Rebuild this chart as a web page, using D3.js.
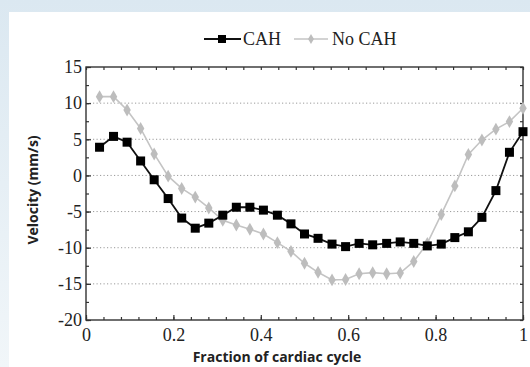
<html lang="en"><head>
<meta http-equiv="Content-Type" content="text/html; charset=UTF-8">
<title>Velocity over cardiac cycle</title>
<script type="text/javascript" src="https://cdn.jsdelivr.net/npm/d3@7"></script>
<style type="text/css">
body { margin: 0; }
</style>
</head>
<body>

<script type="text/javascript">

var width = 530;
var height = 367;

// fraction of cardiac cycle
var fraction = [0.031, 0.063, 0.094, 0.125, 0.156, 0.188, 0.219, 0.25, 0.281, 0.313, 0.344,
                0.375, 0.406, 0.438, 0.469, 0.5, 0.531, 0.563, 0.594, 0.625, 0.656, 0.688,
                0.719, 0.75, 0.781, 0.813, 0.844, 0.875, 0.906, 0.938, 0.969, 1];
// velocity (mm/s)
var cah = [3.9, 5.4, 4.6, 2.0, -0.6, -3.2, -5.9, -7.3, -6.6, -5.5, -4.4, -4.4, -4.8, -5.5,
           -6.7, -8.1, -8.7, -9.5, -9.85, -9.4, -9.6, -9.4, -9.2, -9.4, -9.75, -9.5, -8.6,
           -7.8, -5.8, -2.1, 3.2, 6.05];
var noCah = [10.9, 10.9, 9.05, 6.5, 2.97, -0.1, -1.8, -3.0, -4.5, -6.2, -6.85, -7.45, -8.1,
             -9.3, -10.5, -12.15, -13.4, -14.45, -14.4, -13.6, -13.45, -13.6, -13.5, -11.9,
             -9.4, -5.4, -1.45, 2.9, 4.9, 6.4, 7.45, 9.3];

var seriesNames = ["CAH", "No CAH"];
var xTicks = [0, 0.2, 0.4, 0.6, 0.8, 1];
var yTicks = [-20, -15, -10, -5, 0, 5, 10, 15];
var yGrid = [-15, -10, -5, 0, 5, 10];

var plotLeft = 86, plotRight = 523, plotTop = 67, plotBottom = 320;
var serif = "Liberation Serif, Times New Roman, serif";

var x = d3.scaleLinear().domain([0, 1]).range([plotLeft, plotRight]);
var y = d3.scaleLinear().domain([-20, 15]).range([plotBottom, plotTop]);

var svg = d3.select("body")
            .append("svg")
            .attr("width", width)
            .attr("height", height);

// background
var defs = svg.append("defs");
var grad = defs.append("linearGradient")
  .attr("id", "bg").attr("x1", 0).attr("y1", 0).attr("x2", 0).attr("y2", 1);
grad.append("stop").attr("offset", "0%").attr("stop-color", "#dbe8f1");
grad.append("stop").attr("offset", "100%").attr("stop-color", "#f1f6f9");

svg.append("rect").attr("width", width).attr("height", height).attr("fill", "url(#bg)");
svg.append("rect").attr("x", 9).attr("y", 12).attr("width", width - 9).attr("height", height - 12)
  .attr("fill", "white");

// grid
svg.append("g").selectAll("line")
  .data(yGrid).enter()
  .append("line")
  .attr("x1", plotLeft).attr("x2", plotRight)
  .attr("y1", function(d){ return y(d); })
  .attr("y2", function(d){ return y(d); })
  .attr("stroke", "#9a9a9a")
  .attr("stroke-width", 1)
  .attr("stroke-dasharray", "1.2,2.3");

// minor ticks
var xMinor = d3.range(0, 1.0001, 0.04);
var yMinor = d3.range(-20, 15.0001, 2.5);

function styleAxis(g){
  g.select(".domain").remove();
  g.attr("font-family", serif).attr("font-size", 18);
  g.selectAll(".tick line").attr("stroke", "#333").attr("stroke-width", 1.2);
  g.selectAll(".tick text")
   .style("font-family", serif)
   .style("font-size", "18px")
   .style("fill", "#222");
}

function plain(d){ return String(d); }

svg.append("g").attr("transform", "translate(0," + plotBottom + ")")
  .call(d3.axisBottom(x).tickValues(xMinor).tickSize(-3).tickFormat(""))
  .call(styleAxis);
svg.append("g").attr("transform", "translate(0," + plotTop + ")")
  .call(d3.axisTop(x).tickValues(xMinor).tickSize(-3).tickFormat(""))
  .call(styleAxis);
svg.append("g").attr("transform", "translate(" + plotLeft + ",0)")
  .call(d3.axisLeft(y).tickValues(yMinor).tickSize(-3).tickFormat(""))
  .call(styleAxis);
svg.append("g").attr("transform", "translate(" + plotRight + ",0)")
  .call(d3.axisRight(y).tickValues(yMinor).tickSize(-3).tickFormat(""))
  .call(styleAxis);

// major ticks with labels
svg.append("g").attr("transform", "translate(0," + plotBottom + ")")
  .call(d3.axisBottom(x).tickValues(xTicks).tickSize(-5).tickPadding(8).tickFormat(plain))
  .call(styleAxis);
svg.append("g").attr("transform", "translate(" + plotLeft + ",0)")
  .call(d3.axisLeft(y).tickValues(yTicks).tickSize(-5).tickPadding(4).tickFormat(plain))
  .call(styleAxis);

// frame
svg.append("rect")
  .attr("x", plotLeft).attr("y", plotTop)
  .attr("width", plotRight - plotLeft).attr("height", plotBottom - plotTop)
  .attr("fill", "none").attr("stroke", "#333").attr("stroke-width", 1.4);

// series
var line = d3.line()
  .x(function(d){ return x(d[0]); })
  .y(function(d){ return y(d[1]); });

var noCahData = fraction.map(function(f, i){ return [f, noCah[i]]; });
var cahData = fraction.map(function(f, i){ return [f, cah[i]]; });

svg.append("path").datum(noCahData)
  .attr("d", line).attr("fill", "none")
  .attr("stroke", "#c4c4c4").attr("stroke-width", 1.6);
svg.append("g").selectAll("path")
  .data(noCahData).enter()
  .append("path")
  .attr("d", d3.symbol().type(d3.symbolDiamond).size(48))
  .attr("transform", function(d){ return "translate(" + x(d[0]) + "," + y(d[1]) + ")"; })
  .attr("fill", "#bdbdbd");

svg.append("path").datum(cahData)
  .attr("d", line).attr("fill", "none")
  .attr("stroke", "#111").attr("stroke-width", 1.8);
svg.append("g").selectAll("rect")
  .data(cahData).enter()
  .append("rect")
  .attr("x", function(d){ return x(d[0]) - 4.5; })
  .attr("y", function(d){ return y(d[1]) - 4.5; })
  .attr("width", 9).attr("height", 9)
  .attr("fill", "#000");

// legend
var legend = svg.append("g").attr("font-family", serif)
  .attr("font-size", 18).attr("fill", "#222");
legend.append("line").attr("x1", 204).attr("x2", 241).attr("y1", 39).attr("y2", 39)
  .attr("stroke", "#111").attr("stroke-width", 2);
legend.append("rect").attr("x", 218).attr("y", 35).attr("width", 8).attr("height", 8).attr("fill", "#000");
legend.append("text").attr("x", 243).attr("y", 45).text(seriesNames[0]);
legend.append("line").attr("x1", 294).attr("x2", 328).attr("y1", 39).attr("y2", 39)
  .attr("stroke", "#c4c4c4").attr("stroke-width", 1.6);
legend.append("path").attr("d", d3.symbol().type(d3.symbolDiamond).size(30))
  .attr("transform", "translate(311,39)").attr("fill", "#bdbdbd");
legend.append("text").attr("x", 332).attr("y", 45).text(seriesNames[1]);

// axis titles
svg.append("text")
  .attr("transform", "translate(38,190) rotate(-90)")
  .attr("text-anchor", "middle")
  .attr("font-family", "Open Sans, sans-serif")
  .attr("font-weight", "bold")
  .attr("font-size", 14)
  .attr("fill", "#222")
  .text("Velocity (mm/s)");

svg.append("text")
  .attr("x", 277).attr("y", 362)
  .attr("text-anchor", "middle")
  .attr("font-family", "Open Sans, sans-serif")
  .attr("font-weight", "bold")
  .attr("font-size", 14)
  .attr("fill", "#222")
  .text("Fraction of cardiac cycle");

</script>
</body></html>
